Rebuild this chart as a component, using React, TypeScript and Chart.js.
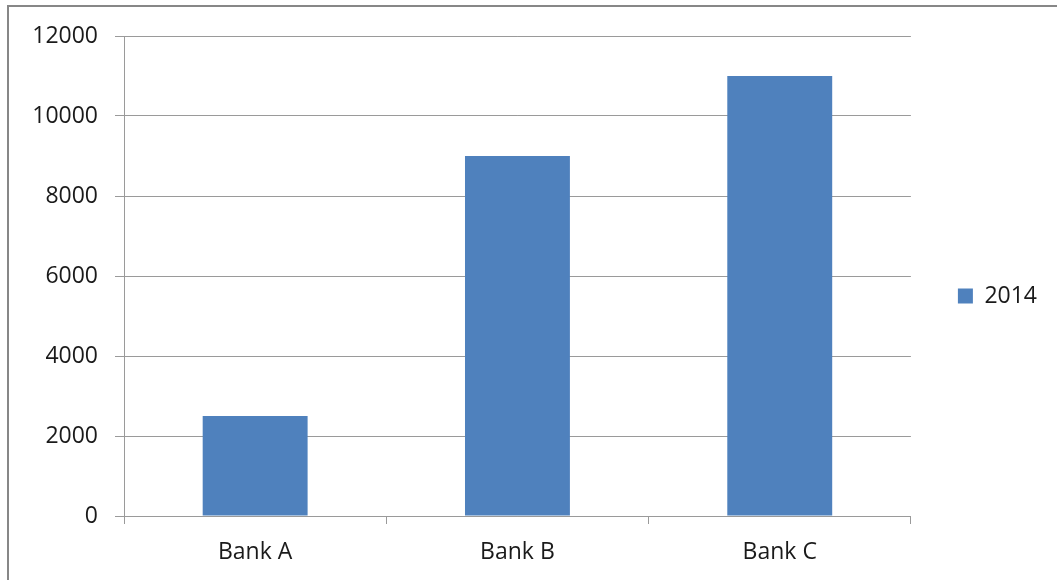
import React, { useEffect, useRef } from "react";
import { Chart, registerables } from "chart.js";

Chart.register(...registerables);

const categories = ["Bank A", "Bank B", "Bank C"];
const seriesName = "2014";
const values2014 = [2500, 9000, 11000];
const yTicks = [0, 2000, 4000, 6000, 8000, 10000, 12000];

const FONT = "'Open Sans', 'DejaVu Sans', sans-serif";
const TEXT = "#1a1a1a";

const framePlugin = {
  id: "frame",
  afterLayout(chart: any) {
    if (chart.legend) {
      chart.legend.bottom = chart.legend.bottom - 24;
      chart.legend.height = chart.legend.bottom - chart.legend.top;
    }
  },
  beforeDraw(chart: any) {
    const ctx = chart.ctx;
    ctx.save();
    ctx.fillStyle = "#ffffff";
    ctx.fillRect(0, 0, chart.width, chart.height);
    ctx.strokeStyle = "#878787";
    ctx.lineWidth = 2;
    ctx.beginPath();
    ctx.moveTo(8, chart.height);
    ctx.lineTo(8, 6);
    ctx.lineTo(chart.width, 6);
    ctx.stroke();
    ctx.restore();
  },
};

export default function App() {
  const ref = useRef<HTMLCanvasElement>(null);
  useEffect(() => {
    if (!ref.current) return;
    const chart = new Chart(ref.current, {
      type: "bar",
      data: {
        labels: categories,
        datasets: [
          {
            label: seriesName,
            data: values2014,
            backgroundColor: "#4F81BD",
            borderWidth: 0,
            categoryPercentage: 1,
            barPercentage: 0.4,
          },
        ],
      },
      options: {
        animation: false,
        responsive: false,
        devicePixelRatio: 1,
        layout: { padding: { left: 10, top: 36, right: 10, bottom: 0 } },
        plugins: {
          tooltip: { enabled: false },
          legend: {
            position: "right",
            labels: {
              boxWidth: 15,
              boxHeight: 15,
              padding: 47,
              color: TEXT,
              font: { family: FONT, size: 23 },
            },
          },
        },
        scales: {
          x: {
            grid: {
              display: true,
              drawOnChartArea: false,
              drawTicks: true,
              tickLength: 8,
              color: "#9a9a9a",
              offset: true,
            },
            border: { display: true, color: "#9a9a9a" },
            ticks: {
              color: TEXT,
              padding: 15,
              font: { family: FONT, size: 23 },
            },
            afterFit(scale: any) {
              scale.height = 64;
            },
          },
          y: {
            min: 0,
            max: 12000,
            afterBuildTicks(scale: any) {
              scale.ticks = yTicks.map((v) => ({ value: v }));
            },
            grid: {
              color: "#9a9a9a",
              tickLength: 9,
            },
            border: { display: true, color: "#9a9a9a" },
            ticks: {
              color: TEXT,
              padding: 17,
              font: { family: FONT, size: 23 },
              callback: (v: any) => String(v),
            },
            afterFit(scale: any) {
              scale.width = 114;
            },
          },
        },
      },
      plugins: [framePlugin],
    });
    return () => chart.destroy();
  }, []);
  return (
    <div style={{ position: "fixed", left: 0, top: 0, width: 1057, height: 580 }}>
      <canvas ref={ref} width={1057} height={580} />
    </div>
  );
}
